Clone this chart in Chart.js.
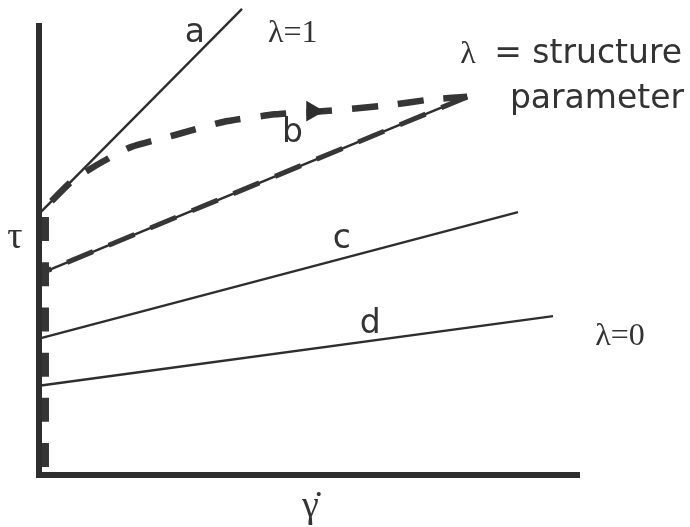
<!DOCTYPE html>
<html>
<head>
<meta charset="utf-8">
<script src="https://cdn.jsdelivr.net/npm/chart.js@4.4.1/dist/chart.umd.min.js"></script>
<style>
  html, body { margin: 0; padding: 0; background: #fff; }
  #wrap { width: 690px; height: 527px; position: relative; }
</style>
</head>
<body>
<div id="wrap"><canvas id="flow_curve"></canvas></div>
<script>
// shear rate (x) vs shear stress (y), arbitrary units
const lineA = [[0, 58.1], [37.6, 103.8]];   // lambda = 1
const lineB = [[0, 44.7], [79.3, 84.2]];
const lineC = [[0, 30.3], [88.7, 58.5]];
const lineD = [[0, 19.8], [95.2, 35.3]];    // lambda = 0

// dashed loop: up along a, over to the top of b ...
const loopUp = [[0, 58.1], [5.7, 65.0], [8.5, 67.4], [12.0, 69.9], [17.0, 73.0],
  [25.2, 75.7], [34.1, 78.6], [43.7, 80.3], [52.4, 81.0], [64.6, 82.3],
  [72.4, 83.6], [79.3, 84.2]];
// ... back down along b ...
const loopDown = [[79.3, 84.2], [0.6, 45.0]];
// ... and down the stress axis
const loopAxis = [[1.2, 57.4], [1.2, 1.4]];
const arrowAt = [[50.6, 81.0]];

const labels = [
  { text: 'a', x: 27.0, y: 96.4, font: 'sans' },
  { text: 'λ=1', x: 42.4, y: 96.4, font: 'serif' },
  { text: 'λ', x: 78.0, y: 91.7, font: 'serif' },
  { text: '= structure', x: 84.3, y: 91.7, font: 'sans' },
  { text: 'parameter', x: 87.2, y: 81.8, font: 'sans' },
  { text: 'b', x: 45.0, y: 74.1, font: 'sans' },
  { text: 'c', x: 54.4, y: 50.5, font: 'sans' },
  { text: 'd', x: 59.4, y: 31.5, font: 'sans' },
  { text: 'λ=0', x: 103.0, y: 28.9, font: 'serif' },
  { text: 'τ', x: -5.9, y: 50.5, font: 'big' },
  { text: 'γ\u0307', x: 48.7, y: -9.5, font: 'big' },
];

const ink = '#2e2e2e';
const pts = arr => arr.map(p => ({ x: p[0], y: p[1] }));
const fonts = {
  sans: '33px "DejaVu Sans"',
  serif: '32px "Liberation Serif"',
  big: '38px "Liberation Serif"'
};

const solid = (data) => ({
  data: pts(data), borderColor: ink, borderWidth: 2.4, pointRadius: 0, clip: false
});

const textPlugin = {
  id: 'sketchText',
  afterDatasetsDraw(chart) {
    const { ctx, scales: { x, y } } = chart;
    ctx.save();
    ctx.fillStyle = '#333';
    ctx.textBaseline = 'alphabetic';
    ctx.textAlign = 'left';
    labels.forEach(l => {
      ctx.font = fonts[l.font];
      ctx.fillText(l.text, x.getPixelForValue(l.x), y.getPixelForValue(l.y));
    });
    ctx.restore();
  }
};

const ctx = document.getElementById('flow_curve');
new Chart(ctx, {
  type: 'line',
  data: {
    datasets: [
      {
        data: pts(arrowAt), showLine: false, pointStyle: 'triangle', rotation: 90,
        pointRadius: 12, backgroundColor: ink, borderWidth: 0, clip: false
      },
      {
        data: pts(loopUp), borderColor: '#363636', borderWidth: 6.5, pointRadius: 0,
        borderDash: [26, 20], borderDashOffset: 28, tension: 0.2, clip: false
      },
      {
        data: pts(loopDown), borderColor: '#363636', borderWidth: 5, pointRadius: 0,
        borderDash: [28, 17], clip: false
      },
      {
        data: pts(loopAxis), borderColor: '#363636', borderWidth: 7, pointRadius: 0,
        borderDash: [24, 21.2], clip: false
      },
      solid(lineA),
      solid(lineB),
      solid(lineC),
      solid(lineD),
    ]
  },
  options: {
    responsive: true,
    maintainAspectRatio: false,
    animation: false,
    layout: { padding: { left: 39, right: 111, top: 26, bottom: 52.5 } },
    plugins: { legend: { display: false }, tooltip: { enabled: false } },
    scales: {
      x: {
        type: 'linear', min: 0, max: 100,
        grid: { display: false, drawTicks: false },
        ticks: { display: false },
        border: { display: true, color: ink, width: 6 },
        afterFit: s => { s.height = 0; }
      },
      y: {
        type: 'linear', min: 0, max: 100,
        grid: { display: false, drawTicks: false },
        ticks: { display: false },
        border: { display: true, color: ink, width: 6 },
        afterFit: s => { s.width = 0; }
      }
    }
  },
  plugins: [textPlugin]
});
</script>
</body>
</html>
